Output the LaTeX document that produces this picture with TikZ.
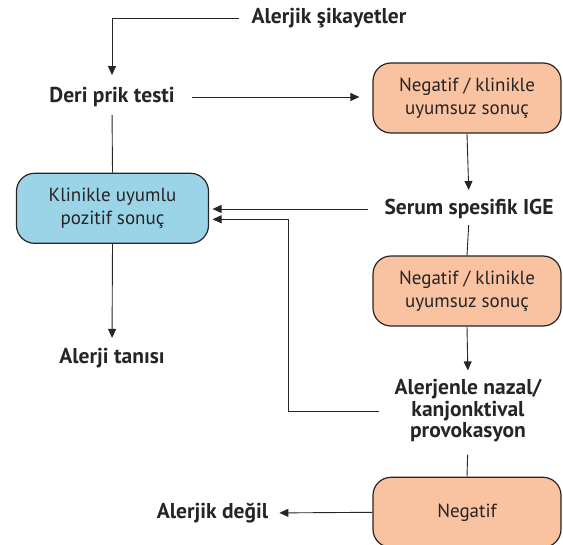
\documentclass[tikz,border=0pt]{standalone}
\usepackage{fontspec}
\setmainfont{PT Sans}
\usetikzlibrary{arrows.meta}
\begin{document}
\begin{tikzpicture}[
    x=1pt, y=-1pt,
    font=\fontsize{19}{22.5}\selectfont,
    stage/.style={font=\fontsize{21.5}{21.5}\selectfont\bfseries, text=InkGray, inner sep=0pt, align=center},
    result/.style={draw=InkGray, line width=1.2pt, rounded corners=18pt, text=InkGray,
        minimum width=188pt, minimum height=70pt, inner sep=0pt, align=center},
    flow/.style={draw=InkGray, line width=0.9pt, -{Triangle[length=9pt,width=8pt]}},
    link/.style={draw=InkGray, line width=0.9pt},
]
    \definecolor{InkGray}{RGB}{38,36,38}
    \definecolor{NegPeach}{RGB}{249,194,160}
    \definecolor{PosBlue}{RGB}{155,212,231}

    \useasboundingbox (0,0) rectangle (563,545);

    % Left column
    \node[stage] (complaint) at (329,18) {Alerjik şikayetler};
    \node[stage] (skintest) at (112,97) {Deri prik testi};
    \node[result, fill=PosBlue, minimum width=192pt] (positive) at (112.5,208.3)
        {Klinikle uyumlu\\ pozitif sonuç};
    \node[stage] (diagnosis) at (112,358) {Alerji tanısı};

    % Right column
    \node[result, fill=NegPeach] (negone) at (467,98) {Negatif / klinikle\\ uyumsuz sonuç};
    \node[stage] (serum) at (469,209) {Serum spesifik IGE};
    \node[result, fill=NegPeach] (negtwo) at (467,291) {Negatif / klinikle\\ uyumsuz sonuç};
    \node[stage] (provocation) at (468,411) {Alerjenle nazal/\\ kanjonktival\\ provokasyon};
    \node[result, fill=NegPeach] (negthree) at (467,512.3) {Negatif};
    \node[stage] (notallergic) at (212.5,513) {Alerjik değil};

    % Connectors
    \draw[flow, shorten <=12pt, shorten >=12pt] (complaint.west) -| (skintest.north);
    \draw[flow, shorten <=17pt, shorten >=13pt] (skintest.east) -- (skintest.east -| negone.west);
    \draw[link, shorten <=8pt] (skintest.south) -- (positive.north);
    \draw[flow, shorten >=9pt] (negone.south) -- (serum.north);
    \draw[flow, shorten <=16pt, shorten >=3.5pt] (serum.west) -- (serum.west -| positive.east);
    \draw[link, shorten <=6pt] (serum.south) -- (negtwo.north);
    \draw[flow, shorten >=10pt] (positive.south) -- (diagnosis.north);
    \draw[flow, shorten >=9pt] (negtwo.south) -- (provocation.north);
    \coordinate (backbend) at (288.3,219.3);
    \draw[flow, shorten <=15pt, shorten >=3.5pt] (provocation.west) -| (backbend)
        -- (backbend -| positive.east);
    \draw[link, shorten <=12pt] (provocation.south) -- (negthree.north);
    \draw[flow, shorten >=11pt] (negthree.west) -- (notallergic.east);
\end{tikzpicture}
\end{document}
